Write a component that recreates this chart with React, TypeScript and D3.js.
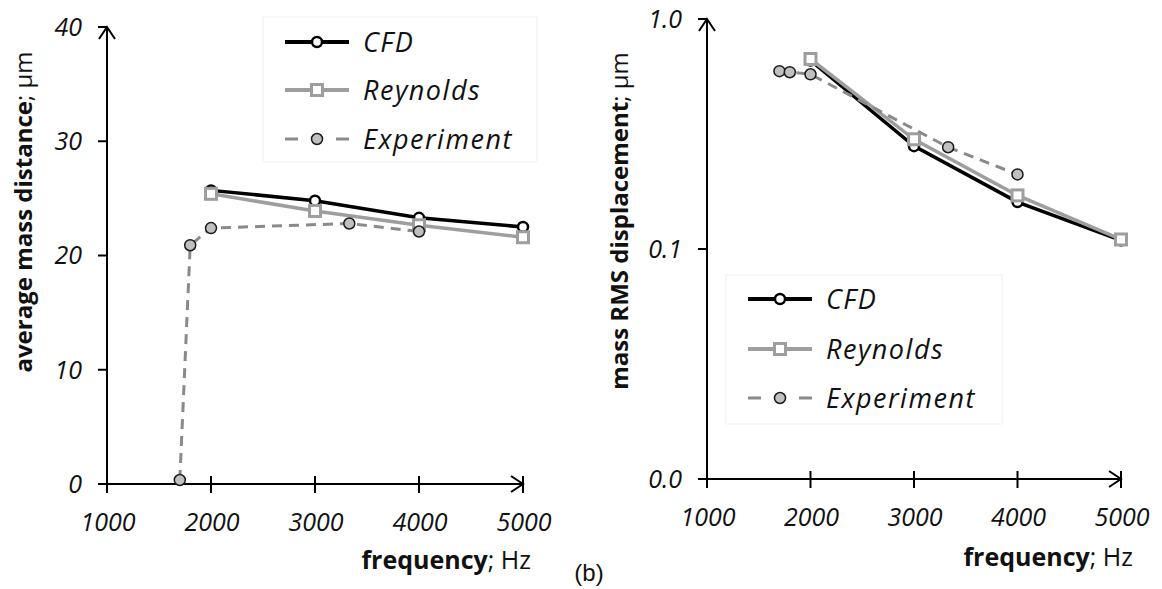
import React, { useEffect, useRef } from 'react';
import * as d3 from 'd3';

// frequency values (Hz)
const simFreq = [2000, 3000, 4000, 5000];
const expFreq = [1700, 1800, 2000, 3330, 4000];

// left panel: average mass distance (µm)
const cfdDistance = [25.7, 24.8, 23.3, 22.5];
const reynoldsDistance = [25.4, 23.9, 22.65, 21.6];
const expDistance = [0.35, 20.9, 22.4, 22.8, 22.1];

// right panel: mass RMS displacement (µm), log axis
const cfdRms = [0.66, 0.28, 0.16, 0.109];
const reynoldsRms = [0.67, 0.3, 0.171, 0.11];
const expRms = [0.593, 0.587, 0.575, 0.277, 0.211];

const freqTicks = [1000, 2000, 3000, 4000, 5000];
const distanceTicks = [0, 10, 20, 30, 40];
const rmsTicks = [0.01, 0.1, 1];
const seriesNames = ['CFD', 'Reynolds', 'Experiment'];

const W = 1162;
const H = 589;
const FONT = "'Open Sans', sans-serif";

type Pt = [number, number];

const App: React.FC = () => {
  const svgRef = useRef<SVGSVGElement>(null);

  useEffect(() => {
    if (!svgRef.current) return;
    const svg = d3.select(svgRef.current);
    svg.selectAll('*').remove();

    svg.append('rect').attr('width', W).attr('height', H).attr('fill', 'white');

    const drawPanel = (opts: {
      x: d3.ScaleLinear<number, number>;
      y: d3.ScaleContinuousNumeric<number, number>;
      yTicks: number[];
      yFormat: (v: number) => string;
      cfd: number[];
      rey: number[];
      exp: number[];
      yTitle: string;
      yTitleX: number;
      yTitleY: number;
      xTitleRight: number;
      xTitleY: number;
      legend: { x0: number; y0: number; w: number; h: number; rows: number[]; lineX: number };
    }) => {
      const { x, y } = opts;
      const g = svg.append('g');
      const [xMin, xMax] = x.range();
      const [yBase, yTop] = y.range();

      // axes
      const axis = g.append('g').attr('stroke', 'black').attr('stroke-width', 2).attr('fill', 'none');
      axis.append('line').attr('x1', xMin).attr('x2', xMin).attr('y1', yBase + 9).attr('y2', yTop);
      axis.append('line').attr('x1', xMin - 8).attr('x2', xMax).attr('y1', yBase).attr('y2', yBase);
      axis.append('path').attr('d', `M${xMin - 8},${yTop + 12}L${xMin},${yTop}L${xMin + 8},${yTop + 12}`);
      axis.append('path').attr('d', `M${xMax - 12},${yBase - 8}L${xMax},${yBase}L${xMax - 12},${yBase + 8}`);

      freqTicks.forEach(t => {
        axis.append('line').attr('x1', x(t)).attr('x2', x(t)).attr('y1', yBase - 8).attr('y2', yBase + 9);
      });
      opts.yTicks.forEach(t => {
        axis.append('line').attr('x1', xMin - 9).attr('x2', xMin).attr('y1', y(t)).attr('y2', y(t));
      });

      const tickText = g.append('g')
        .attr('font-family', FONT)
        .attr('font-style', 'italic')
        .attr('font-size', 25)
        .attr('fill', '#111');
      freqTicks.forEach(t => {
        tickText.append('text').attr('x', x(t) + 1).attr('y', yBase + 47)
          .attr('text-anchor', 'middle').text(String(t));
      });
      opts.yTicks.forEach(t => {
        tickText.append('text').attr('x', xMin - 25).attr('y', y(t)).attr('dy', '0.35em')
          .attr('text-anchor', 'end').text(opts.yFormat(t));
      });

      // titles
      const yt = g.append('text')
        .attr('transform', `translate(${opts.yTitleX},${opts.yTitleY}) rotate(-90)`)
        .attr('text-anchor', 'middle')
        .attr('font-family', FONT)
        .attr('font-size', 24)
        .attr('fill', '#111');
      yt.append('tspan').attr('font-weight', 700).text(opts.yTitle);
      yt.append('tspan').text('; μm');

      const xt = g.append('text')
        .attr('x', opts.xTitleRight).attr('y', opts.xTitleY)
        .attr('text-anchor', 'end')
        .attr('font-family', FONT)
        .attr('font-size', 25)
        .attr('fill', '#111');
      xt.append('tspan').attr('font-weight', 700).text('frequency');
      xt.append('tspan').text('; Hz');

      // series
      const line = d3.line<Pt>().x(d => x(d[0])).y(d => y(d[1]));
      const cfdPts: Pt[] = simFreq.map((f, i) => [f, opts.cfd[i]]);
      const reyPts: Pt[] = simFreq.map((f, i) => [f, opts.rey[i]]);
      const expPts: Pt[] = expFreq.map((f, i) => [f, opts.exp[i]]);

      g.append('path').attr('d', line(cfdPts)).attr('fill', 'none').attr('stroke', 'black').attr('stroke-width', 3.5);
      g.selectAll('.cfd').data(cfdPts).enter().append('circle')
        .attr('cx', d => x(d[0])).attr('cy', d => y(d[1])).attr('r', 5)
        .attr('fill', 'white').attr('stroke', 'black').attr('stroke-width', 2.5);

      g.append('path').attr('d', line(reyPts)).attr('fill', 'none').attr('stroke', '#9e9e9e').attr('stroke-width', 3.5);
      g.selectAll('.rey').data(reyPts).enter().append('rect')
        .attr('x', d => x(d[0]) - 5.5).attr('y', d => y(d[1]) - 5.5).attr('width', 11).attr('height', 11)
        .attr('fill', 'white').attr('stroke', '#9e9e9e').attr('stroke-width', 3);

      g.append('path').attr('d', line(expPts)).attr('fill', 'none').attr('stroke', '#8a8a8a')
        .attr('stroke-width', 3).attr('stroke-dasharray', '10,7');
      g.selectAll('.exp').data(expPts).enter().append('circle')
        .attr('cx', d => x(d[0])).attr('cy', d => y(d[1])).attr('r', 5.5)
        .attr('fill', '#c0c0c0').attr('stroke', '#1a1a1a').attr('stroke-width', 1.5);

      // legend
      const L = opts.legend;
      g.append('rect').attr('x', L.x0).attr('y', L.y0).attr('width', L.w).attr('height', L.h)
        .attr('fill', 'white').attr('stroke', '#efefef').attr('stroke-width', 1);
      const lx0 = L.lineX;
      const lx1 = L.lineX + 64;
      const mx = (lx0 + lx1) / 2;
      seriesNames.forEach((name, i) => {
        const ly = L.rows[i];
        const row = g.append('g');
        if (i === 0) {
          row.append('line').attr('x1', lx0).attr('x2', lx1).attr('y1', ly).attr('y2', ly)
            .attr('stroke', 'black').attr('stroke-width', 4);
          row.append('circle').attr('cx', mx).attr('cy', ly).attr('r', 5)
            .attr('fill', 'white').attr('stroke', 'black').attr('stroke-width', 2.5);
        } else if (i === 1) {
          row.append('line').attr('x1', lx0).attr('x2', lx1).attr('y1', ly).attr('y2', ly)
            .attr('stroke', '#9e9e9e').attr('stroke-width', 4);
          row.append('rect').attr('x', mx - 5.5).attr('y', ly - 5.5).attr('width', 11).attr('height', 11)
            .attr('fill', 'white').attr('stroke', '#9e9e9e').attr('stroke-width', 3);
        } else {
          row.append('line').attr('x1', lx0).attr('x2', lx0 + 13).attr('y1', ly).attr('y2', ly)
            .attr('stroke', '#8a8a8a').attr('stroke-width', 3);
          row.append('line').attr('x1', lx1 - 13).attr('x2', lx1).attr('y1', ly).attr('y2', ly)
            .attr('stroke', '#8a8a8a').attr('stroke-width', 3);
          row.append('circle').attr('cx', mx).attr('cy', ly).attr('r', 5.5)
            .attr('fill', '#c0c0c0').attr('stroke', '#1a1a1a').attr('stroke-width', 1.5);
        }
        row.append('text').attr('x', lx1 + 14).attr('y', ly).attr('dy', '0.36em')
          .attr('font-family', FONT).attr('font-style', 'italic').attr('font-size', 27)
          .attr('letter-spacing', 1.5).attr('fill', '#111').text(name);
      });
    };

    drawPanel({
      x: d3.scaleLinear().domain([1000, 5000]).range([107, 523]),
      y: d3.scaleLinear().domain([0, 40]).range([484, 27]),
      yTicks: distanceTicks,
      yFormat: d => String(d),
      cfd: cfdDistance,
      rey: reynoldsDistance,
      exp: expDistance,
      yTitle: 'average mass distance',
      yTitleX: 32,
      yTitleY: 212,
      xTitleRight: 531,
      xTitleY: 569,
      legend: { x0: 263, y0: 17, w: 274, h: 145, rows: [42, 90, 139], lineX: 285 },
    });

    drawPanel({
      x: d3.scaleLinear().domain([1000, 5000]).range([707, 1121]),
      y: d3.scaleLog().domain([0.01, 1]).range([479, 19]),
      yTicks: rmsTicks,
      yFormat: d3.format('.1f'),
      cfd: cfdRms,
      rey: reynoldsRms,
      exp: expRms,
      yTitle: 'mass RMS displacement',
      yTitleX: 628,
      yTitleY: 221,
      xTitleRight: 1133,
      xTitleY: 566,
      legend: { x0: 726, y0: 275, w: 276, h: 149, rows: [299, 349, 398], lineX: 748 },
    });

    svg.append('text').attr('x', 589).attr('y', 581).attr('text-anchor', 'middle')
      .attr('font-family', "'Liberation Sans', Arial, sans-serif").attr('font-size', 24)
      .attr('fill', '#111').text('(b)');
  }, []);

  return (
    <svg ref={svgRef} width={W} height={H}
      style={{ position: 'absolute', left: 0, top: 0, display: 'block' }} />
  );
};

export default App;
